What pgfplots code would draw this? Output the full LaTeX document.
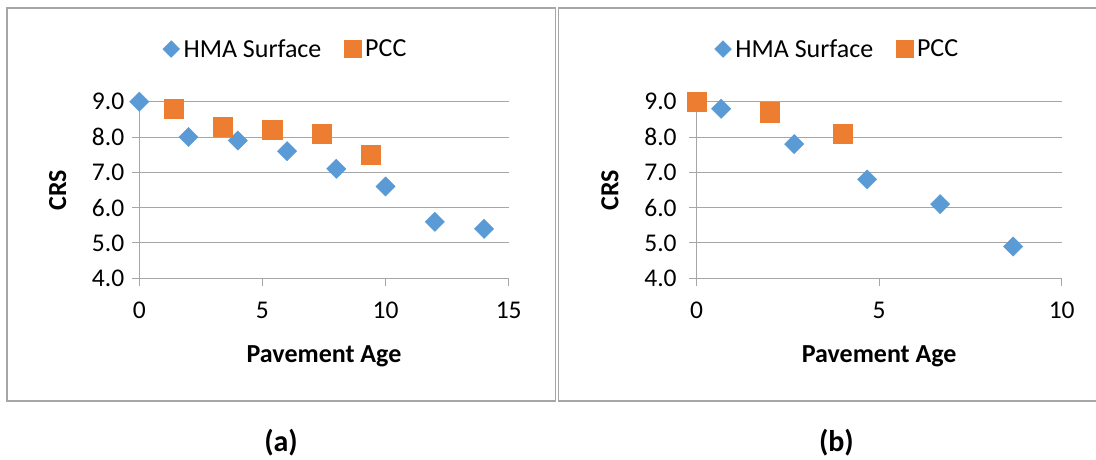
\documentclass[border=0pt]{standalone}
\usepackage{fontspec}
\setmainfont{Carlito}
\usepackage{pgfplots}
\pgfplotsset{compat=1.18}
\definecolor{hma}{HTML}{5B9BD5}
\definecolor{pcc}{HTML}{ED7D31}
\definecolor{gridc}{HTML}{A6A6A6}
\definecolor{framec}{HTML}{A6A6A6}
\newcommand{\tickfont}{\fontsize{25.5}{30}\selectfont}

\pgfplotsset{
 crs/.style={
  scale only axis,
  height=176.6pt,
  ymin=4, ymax=9,
  ytick={4,5,6,7,8,9},
  axis x line*=bottom, axis y line*=left,
  axis line style={draw=gridc, line width=1pt, -},
  ymajorgrids, grid style={draw=gridc, line width=1pt},
  tick style={draw=gridc, line width=1pt},
  tick align=outside, major tick length=7.5pt,
  /pgf/number format/assume math mode=true,
  yticklabel={\tickfont\pgfmathprintnumber[fixed,fixed zerofill,precision=1]{\tick}},
  xticklabel={\tickfont\pgfmathprintnumber{\tick}},
  xticklabel style={yshift=-13pt},
  xlabel={Pavement Age}, ylabel={CRS},
  label style={font=\fontsize{26}{31}\selectfont\bfseries},
  x label style={at={(axis description cs:0.5,-0.44)}, anchor=center},
  clip=false,
  legend columns=2,
  legend style={draw=none, fill=none, anchor=center,
     font=\fontsize{26}{31}\selectfont,
     /tikz/every odd column/.append style={column sep=2pt},
     /tikz/every even column/.append style={column sep=21pt}},
  legend image code/.code={\draw[##1, /tikz/every mark/.append style={scale=0.87}] plot coordinates {(0pt,0pt)};},
 },
 hmastyle/.style={only marks, mark=square*, color=hma, mark size=6.82pt, mark options={rotate=45, draw=none, fill=hma}},
 pccstyle/.style={only marks, mark=square*, color=pcc, mark size=9.65pt, mark options={draw=none, fill=pcc}},
}

\begin{document}
\begin{tikzpicture}
\useasboundingbox (0pt,0pt) rectangle (1096pt,460pt);
\draw[framec, line width=1.3pt] (7pt,59pt) rectangle (555.3pt,452pt);
\draw[framec, line width=1.3pt] (1100pt,452pt) -- (558.3pt,452pt) -- (558.3pt,59pt) -- (1100pt,59pt);

\begin{axis}[crs, at={(139.3pt,181.7pt)}, anchor=south west,
  width=369.4pt, xmin=0, xmax=15, xtick={0,5,10,15},
  yticklabel style={xshift=-4pt},
  y label style={at={(axis description cs:-0.221,0.5)}, anchor=center},
  legend style={at={(axis description cs:0.396,1.298)}}]
\addplot[hmastyle] coordinates {
 (0,9.0) (2,8.0) (4,7.9) (6,7.6) (8,7.1) (10,6.6) (12,5.6) (14,5.4)};
\addlegendentry{HMA Surface}
\addplot[pccstyle] coordinates {
 (1.4,8.8) (3.4,8.3) (5.4,8.2) (7.4,8.1) (9.4,7.5)};
\addlegendentry{PCC}
\end{axis}

\begin{axis}[crs, at={(696.7pt,181.7pt)}, anchor=south west,
  width=365pt, xmin=0, xmax=10, xtick={0,5,10},
  yticklabel style={xshift=-9pt},
  y label style={at={(axis description cs:-0.2375,0.5)}, anchor=center},
  legend style={at={(axis description cs:0.3855,1.298)}}]
\addplot[hmastyle] coordinates {
 (0.67,8.8) (2.67,7.8) (4.67,6.8) (6.67,6.1) (8.67,4.9)};
\addlegendentry{HMA Surface}
\addplot[pccstyle] coordinates {
 (0,9.0) (2,8.7) (4,8.1)};
\addlegendentry{PCC}
\end{axis}

\node[font=\fontsize{30}{36}\selectfont\bfseries] at (281pt,17pt) {(a)};
\node[font=\fontsize{30}{36}\selectfont\bfseries] at (836.4pt,17pt) {(b)};
\end{tikzpicture}
\end{document}
